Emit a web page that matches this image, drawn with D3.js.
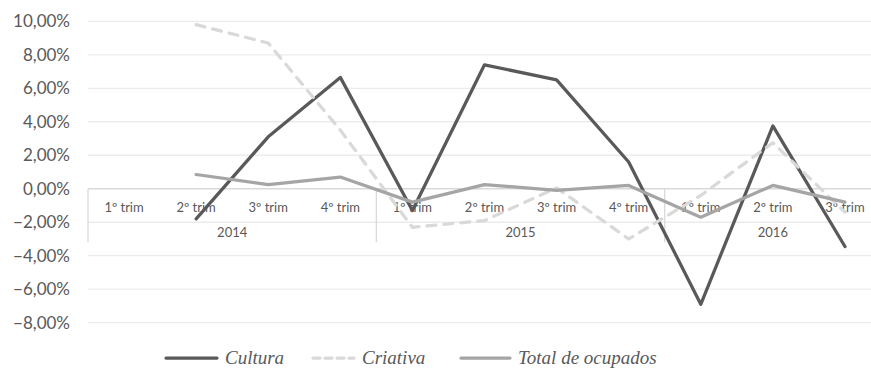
<!DOCTYPE html>
<html>
<head>
<meta charset="utf-8">
<script src="https://cdn.jsdelivr.net/npm/d3@7"></script>
<style>
  html, body { margin: 0; padding: 0; background: #fff; }
  svg { display: block; }
</style>
</head>
<body>
<svg id="chart" width="871" height="371"></svg>
<script>
// Quarterly labels and year groups
const quarters = ["1º trim", "2º trim", "3º trim", "4º trim",
                  "1º trim", "2º trim", "3º trim", "4º trim",
                  "1º trim", "2º trim", "3º trim"];
const years = ["2014", "2015", "2016"];
const yearSizes = [4, 4, 3];

// Variation rates (%), null where no value exists
const cultura = [null, -1.8, 3.1, 6.65, -1.3, 7.4, 6.5, 1.6, -6.9, 3.75, -3.45];
const criativa = [null, 9.8, 8.7, 3.5, -2.3, -1.9, 0.05, -3.0, -0.4, 2.75, -1.4];
const totalOcupados = [null, 0.85, 0.25, 0.7, -0.8, 0.25, -0.1, 0.2, -1.7, 0.2, -0.8];

const yTicks = [10, 8, 6, 4, 2, 0, -2, -4, -6, -8];

const seriesList = [
  { name: "Cultura", values: cultura, color: "#595959", dash: null, legendDash: null },
  { name: "Criativa", values: criativa, color: "#d9d9d9", dash: "9,8", legendDash: "7,5" },
  { name: "Total de ocupados", values: totalOcupados, color: "#a5a5a5", dash: null, legendDash: null }
];

const svg = d3.select("#chart");
const plotLeft = 88, plotRight = 881, plotTop = 21.3, plotBottom = 322.7;

const x = d3.scaleBand().domain(d3.range(quarters.length)).range([plotLeft, plotRight]);
const y = d3.scaleLinear().domain([-8, 10]).range([plotBottom, plotTop]);
const fmt = v => d3.format(".2f")(v).replace(".", ",") + "%";

// Horizontal gridlines
svg.append("g").selectAll("line").data(yTicks).join("line")
  .attr("x1", plotLeft).attr("x2", plotRight)
  .attr("y1", d => y(d)).attr("y2", d => y(d))
  .attr("stroke", d => d === 0 ? "#d9d9d9" : "#ebebeb")
  .attr("stroke-width", 1.3);

// Value axis labels
svg.append("g").selectAll("text").data(yTicks).join("text")
  .attr("x", 70).attr("y", d => y(d))
  .attr("dy", "0.35em")
  .attr("text-anchor", "end")
  .attr("font-family", "Lato, sans-serif")
  .attr("font-size", 17)
  .attr("fill", "#595959")
  .text(fmt);

// Category axis: quarter labels
const y0 = y(0);
svg.append("g").selectAll("text").data(quarters).join("text")
  .attr("x", (d, i) => x(i) + x.bandwidth() / 2)
  .attr("y", y0 + 18.5)
  .attr("dy", "0.35em")
  .attr("text-anchor", "middle")
  .attr("font-family", "Lato, sans-serif")
  .attr("font-size", 13)
  .attr("fill", "#595959")
  .text(d => d);

// Year groups and their separators
let start = 0;
const groups = years.map((yr, k) => {
  const g = { year: yr, start: start, end: start + yearSizes[k] };
  start += yearSizes[k];
  return g;
});
const sepPositions = groups.map(g => x(g.start)).concat([x(groups[groups.length - 1].end - 1) + x.bandwidth()]);
svg.append("g").selectAll("line").data(sepPositions).join("line")
  .attr("x1", d => d).attr("x2", d => d)
  .attr("y1", y0).attr("y2", y0 + 53.5)
  .attr("stroke", "#d9d9d9").attr("stroke-width", 1.3);

svg.append("g").selectAll("text").data(groups).join("text")
  .attr("x", g => (x(g.start) + x(g.end - 1) + x.bandwidth()) / 2)
  .attr("y", y0 + 44)
  .attr("dy", "0.35em")
  .attr("text-anchor", "middle")
  .attr("font-family", "Lato, sans-serif")
  .attr("font-size", 13)
  .attr("fill", "#595959")
  .text(g => g.year);

// Series lines
const line = d3.line()
  .defined(d => d != null)
  .x((d, i) => x(i) + x.bandwidth() / 2)
  .y(d => y(d));

svg.append("g").selectAll("path").data(seriesList).join("path")
  .attr("d", s => line(s.values))
  .attr("fill", "none")
  .attr("stroke", s => s.color)
  .attr("stroke-width", 3.25)
  .attr("stroke-linejoin", "round")
  .attr("stroke-linecap", "round")
  .attr("stroke-dasharray", s => s.dash);

// Legend
const legendItems = [
  { lx: 166, tx: 225 },
  { lx: 313, tx: 362 },
  { lx: 461, tx: 518 }
];
const lgY = 358;
const legend = svg.append("g").selectAll("g").data(seriesList).join("g");
legend.append("line")
  .attr("x1", (s, i) => legendItems[i].lx)
  .attr("x2", (s, i) => legendItems[i].tx - 8)
  .attr("y1", lgY).attr("y2", lgY)
  .attr("stroke", s => s.color)
  .attr("stroke-width", 3.25)
  .attr("stroke-linecap", "round")
  .attr("stroke-dasharray", s => s.legendDash);
legend.append("text")
  .attr("x", (s, i) => legendItems[i].tx)
  .attr("y", lgY)
  .attr("dy", "0.33em")
  .attr("font-family", "'Liberation Serif', 'DejaVu Serif', serif")
  .attr("font-style", "italic")
  .attr("font-size", 19)
  .attr("fill", "#595959")
  .text(s => s.name);
</script>
</body>
</html>
